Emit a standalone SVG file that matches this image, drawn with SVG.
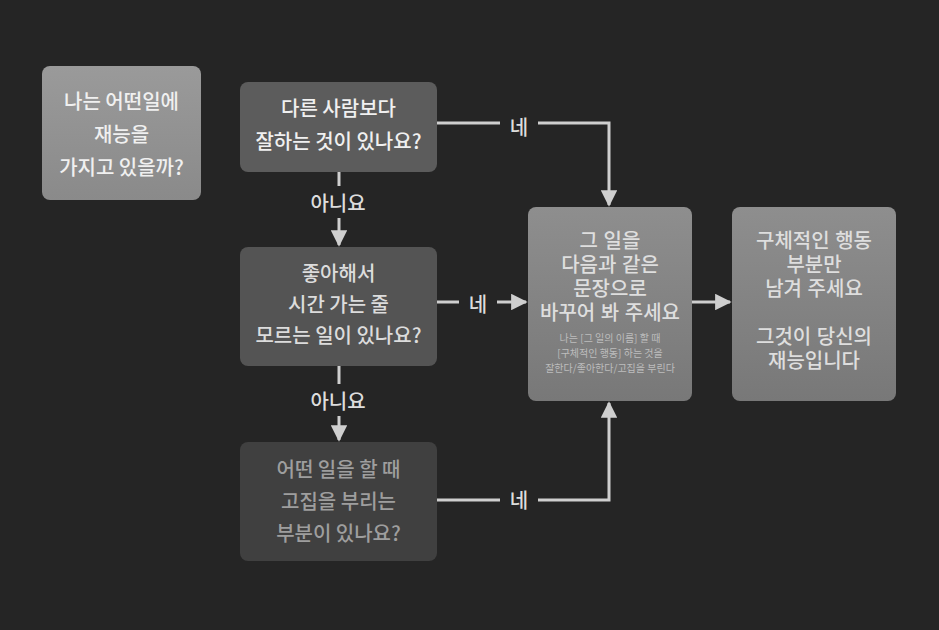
<svg xmlns="http://www.w3.org/2000/svg" width="939" height="630" viewBox="0 0 939 630">
<defs>
<linearGradient id="g1" x1="0" y1="0" x2="0" y2="1"><stop offset="0" stop-color="#9a9a9a"/><stop offset="1" stop-color="#8a8a8a"/></linearGradient>
<linearGradient id="g5" x1="0" y1="0" x2="0" y2="1"><stop offset="0" stop-color="#8e8e8e"/><stop offset="1" stop-color="#787878"/></linearGradient>
<marker id="ah" viewBox="0 0 10 10" refX="9" refY="5" markerWidth="5.5" markerHeight="5.5" orient="auto" markerUnits="strokeWidth"><path d="M0,0 L10,5 L0,10 z" fill="#cfcfcf"/></marker>
<style>
text{font-family:"Noto Sans CJK KR","Noto Sans",sans-serif;font-size:20px;font-weight:500;text-anchor:middle;dominant-baseline:central}
.t{font-family:"Liberation Sans","Noto Sans CJK KR",sans-serif;fill:#dedede}
.e{fill:none;stroke:#cfcfcf;stroke-width:3}
.el{fill:#dddddd}
.sm{font-size:10px;font-weight:400;fill:#bdbdbd}
</style>
</defs>
<rect width="939" height="630" fill="#252525"/>
<g id="connectors">
<path class="e" d="M437,123 H609 V205" marker-end="url(#ah)"/>
<rect x="500" y="110" width="38" height="30" fill="#252525"/>
<text class="el" x="519" y="126">네</text>
<path class="e" d="M339,172 V245" marker-end="url(#ah)"/>
<rect x="304" y="186" width="70" height="32" fill="#252525"/>
<text class="el" x="338" y="202">아니요</text>
<path class="e" d="M437,302 H526" marker-end="url(#ah)"/>
<rect x="459" y="289" width="38" height="28" fill="#252525"/>
<text class="el" x="478" y="303">네</text>
<path class="e" d="M339,366 V440" marker-end="url(#ah)"/>
<rect x="304" y="384" width="70" height="32" fill="#252525"/>
<text class="el" x="338" y="400">아니요</text>
<path class="e" d="M437,500 H609 V403" marker-end="url(#ah)"/>
<rect x="500" y="487" width="38" height="28" fill="#252525"/>
<text class="el" x="519" y="499">네</text>
<path class="e" d="M692,302 H730" marker-end="url(#ah)"/>
</g>
<g id="n1">
<rect x="42" y="66" width="159" height="134" rx="8" fill="url(#g1)"/>
<text x="121.5" y="100" fill="#f0f0f0">나는 어떤일에</text>
<text x="121.5" y="133" fill="#f0f0f0">재능을</text>
<text x="121.5" y="166" fill="#f0f0f0">가지고 있을까?</text>
</g>
<g id="n2">
<rect x="240" y="82" width="197" height="90" rx="8" fill="#5c5c5c"/>
<text x="338.5" y="107" fill="#f0f0f0">다른 사람보다</text>
<text x="338.5" y="140" fill="#f0f0f0">잘하는 것이 있나요?</text>
</g>
<g id="n3">
<rect x="240" y="247" width="197" height="119" rx="8" fill="#545454"/>
<text x="338.5" y="272" fill="#dcdcdc">좋아해서</text>
<text x="338.5" y="303" fill="#dcdcdc">시간 가는 줄</text>
<text x="338.5" y="334" fill="#dcdcdc">모르는 일이 있나요?</text>
</g>
<g id="n4">
<rect x="240" y="442" width="197" height="119" rx="8" fill="#404040"/>
<text x="338.5" y="468" fill="#9e9e9e">어떤 일을 할 때</text>
<text x="338.5" y="500" fill="#9e9e9e">고집을 부리는</text>
<text x="338.5" y="532" fill="#9e9e9e">부분이 있나요?</text>
</g>
<g id="n5">
<rect x="528" y="207" width="164" height="194" rx="8" fill="url(#g5)"/>
<text class="t" x="610" y="241">그 일을</text>
<text class="t" x="610" y="265">다음과 같은</text>
<text class="t" x="610" y="289">문장으로</text>
<text class="t" x="610" y="313">바꾸어 봐 주세요</text>
<text class="sm" x="610" y="337">나는 [그 일의 이름] 할 때</text>
<text class="sm" x="610" y="352">[구체적인 행동] 하는 것을</text>
<text class="sm" x="610" y="367">잘한다/좋아한다/고집을 부린다</text>
</g>
<g id="n6">
<rect x="732" y="207" width="164" height="194" rx="8" fill="url(#g5)"/>
<text class="t" x="814" y="241">구체적인 행동</text>
<text class="t" x="814" y="265">부분만</text>
<text class="t" x="814" y="289">남겨 주세요</text>
<text class="t" x="814" y="337">그것이 당신의</text>
<text class="t" x="814" y="361">재능입니다</text>
</g>
</svg>
